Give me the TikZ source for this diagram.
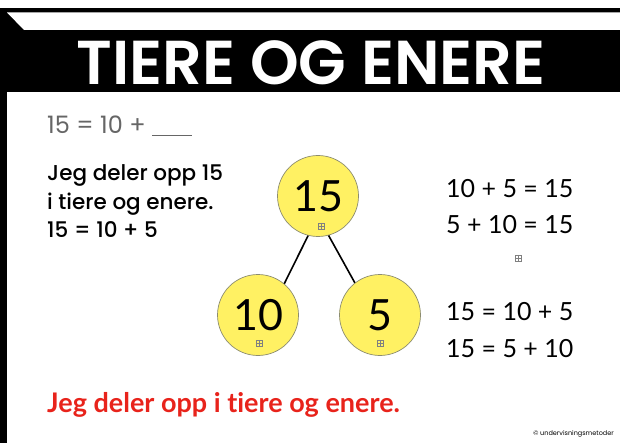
\documentclass[tikz,border=0pt]{standalone}
\usepackage{fontspec}
\setmainfont{Poppins}[BoldFont={Poppins SemiBold}]
\newfontfamily\midfont{Poppins Medium}
\newfontfamily\handfont{Lato}[Ligatures=NoCommon]
\usetikzlibrary{positioning}
\definecolor{ballyellow}{HTML}{FFF163}
\definecolor{balledge}{HTML}{8C8C70}
\definecolor{redtext}{HTML}{E8231B}
\definecolor{greytext}{HTML}{666666}
\tikzset{
  ball/.style={circle,fill=ballyellow,draw=balledge,line width=0.7,minimum size=81,inner sep=0,
    font=\handfont\fontsize{43}{43}\selectfont},
  sumline/.style={anchor=base west,inner sep=0,font=\handfont\fontsize{25}{25}\selectfont},
  textline/.style={anchor=base west,inner sep=0,font=\midfont\fontsize{21.5}{21.5}\selectfont},
  gridmark/.style={draw=gray,line width=0.4,minimum size=6,inner sep=0,
    path picture={\draw[gray,line width=0.3] (path picture bounding box.north) -- (path picture bounding box.south)
      (path picture bounding box.west) -- (path picture bounding box.east);}}
}

\begin{document}
\begin{tikzpicture}[x=1pt,y=-1pt]
\useasboundingbox (0,0) rectangle (620,443);
% ---------- frame and title bar ----------
\fill[black] (0,8) rectangle (620,92);
\fill[white] (7,12.5) -- (620,12.5) -- (620,30) -- (24,30) -- cycle;
\fill[black] (0,8) rectangle (7,443);
\node[text=white,inner sep=0,font=\bfseries\fontsize{62}{62}\selectfont] (title) at (311,63) {TIERE OG ENERE};
% ---------- left text ----------
\node[textline,text=greytext,font=\fontsize{24}{24}\selectfont] (task) at (47,134) {15 = 10 + \rule[-2pt]{40pt}{1.3pt}};
\node[textline] (line1) at (47,181) {Jeg deler opp 15};
\node[textline] (line2) at (47,210) {i tiere og enere.};
\node[textline] (line3) at (47,238) {15 = 10 + 5};
% ---------- number bond ----------
\node[ball] (n15) at (318,196) {15};
\node[ball] (n10) at (258,315) {10};
\node[ball] (n5) at (380,315) {5};
\draw[line width=1.6] (n15.256) -- (n10.50);
\draw[line width=1.6] (n15.285) -- (n5.128);
\node[gridmark] (g15) at (321,226) {};
\node[gridmark] (g10) at (259,343) {};
\node[gridmark] (g5) at (380,343) {};
\node[gridmark] (gmid) at (518,258) {};
% ---------- right sums ----------
\foreach \yy/\txt in {198/10 + 5 = 15, 234/5 + 10 = 15, 320/15 = 10 + 5, 357/15 = 5 + 10}
  \node[sumline] at (446,\yy) {\txt};
% ---------- bottom ----------
\node[anchor=base west,inner sep=0,text=redtext,font=\handfont\bfseries\fontsize{27}{27}\selectfont] (rule) at (47,412) {Jeg deler opp i tiere og enere.};
\node[anchor=base east,inner sep=0,font=\fontsize{6.5}{6.5}\selectfont] (credit) at (614,435) {© undervisningsmetoder};
\end{tikzpicture}
\end{document}
